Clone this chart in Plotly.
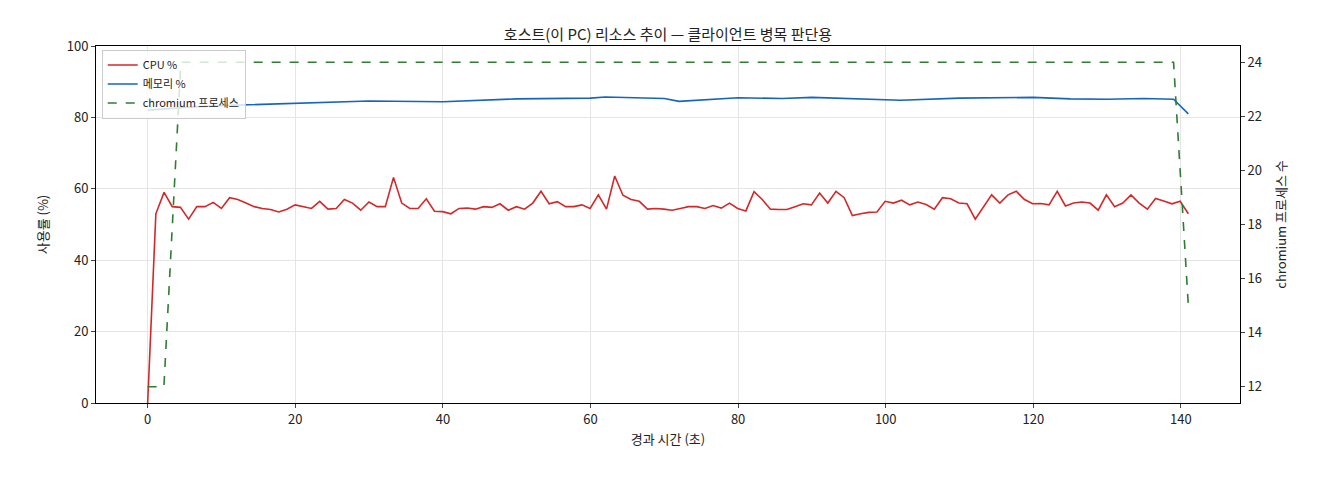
import numpy as np
import plotly.graph_objects as go

cpu = [0, 53, 59, 55, 54.8, 51.5, 55, 55, 56.2, 54.5, 57.5, 57, 56, 55, 54.5, 54.2, 53.5, 54.3,
       55.5, 55, 54.5, 56.5, 54.3, 54.5, 57, 56, 54, 56.3, 55, 55, 63.2, 56, 54.5, 54.5, 57.2,
       53.7, 53.6, 53, 54.5, 54.6, 54.3, 55, 54.8, 55.8, 54, 55, 54.3, 56, 59.3, 55.8, 56.4,
       55, 55, 55.5, 54.5, 58.3, 54.3, 63.6, 58.2, 57, 56.5, 54.3, 54.5, 54.3, 54, 54.5, 55,
       55, 54.5, 55.3, 54.6, 56, 54.5, 53.8, 59.2, 57, 54.3, 54.2, 54.2, 55, 55.8, 55.5, 58.8,
       56, 59.3, 57.5, 52.5, 53, 53.4, 53.5, 56.5, 56, 56.8, 55.5, 56.3, 55.6, 54.3, 57.5,
       57.2, 56, 55.8, 51.5, 55, 58.3, 56, 58.3, 59.3, 57, 55.8, 55.9, 55.5, 59.3, 55.2, 56,
       56.3, 56, 54, 58.3, 55, 56, 58.3, 56, 54.3, 57.3, 56.6, 55.8, 56.5, 53]
t = np.round(np.linspace(0, 141, len(cpu)), 2)

mem_t = [0, 5, 10, 20, 30, 40, 50, 60, 62, 70, 72, 80, 86, 90, 100, 102, 110, 120, 125, 130, 135, 139, 141]
mem = [82, 82.8, 83.3, 84, 84.6, 84.4, 85.2, 85.4, 85.7, 85.3, 84.5, 85.5, 85.3, 85.6, 85, 84.8, 85.4, 85.6, 85.2, 85.1, 85.3, 85.1, 81]

chr_t = [0, 2.2, 4.5, 139, 141]
chr_n = [12, 12, 24, 24, 15]

fig = go.Figure()
fig.add_trace(go.Scatter(x=t, y=cpu, name="CPU %", mode="lines", line=dict(color="#d62728", width=1.6)))
fig.add_trace(go.Scatter(x=mem_t, y=mem, name="메모리 %", mode="lines", line=dict(color="#1565c0", width=1.6)))
fig.add_trace(go.Scatter(x=chr_t, y=chr_n, name="chromium 프로세스", mode="lines", yaxis="y2",
                         line=dict(color="#2e7d32", width=1.6, dash="dash")))

ax = dict(showline=True, linecolor="black", mirror=False, ticks="outside", ticklen=4,
          gridcolor="#e5e5e5", zeroline=False, title_font=dict(size=13), tickfont=dict(size=13))
fig.update_layout(
    width=1320, height=480, plot_bgcolor="white", paper_bgcolor="white",
    font=dict(family="Noto Sans CJK KR", color="#222"),
    title=dict(text="호스트(이 PC) 리소스 추이 — 클라이언트 병목 판단용", x=0.5, xanchor="center", y=0.955, font=dict(size=15)),
    margin=dict(l=88, r=88, t=38, b=85),
    xaxis=dict(ax, title_text="경과 시간 (초)", title_standoff=8, range=[-7, 148], dtick=20, mirror=True),
    yaxis=dict(ax, title_text="사용률 (%)", range=[0, 100], dtick=20),
    yaxis2=dict(ax, title_text="chromium 프로세스 수", overlaying="y", side="right", range=[11.4, 24.6],
                dtick=2, showgrid=False),
    legend=dict(x=0.005, y=0.99, xanchor="left", yanchor="top", bordercolor="#ccc", borderwidth=1,
                bgcolor="rgba(255,255,255,0.8)", font=dict(size=11)),
    showlegend=True,
)
fig.write_html("out.html")
